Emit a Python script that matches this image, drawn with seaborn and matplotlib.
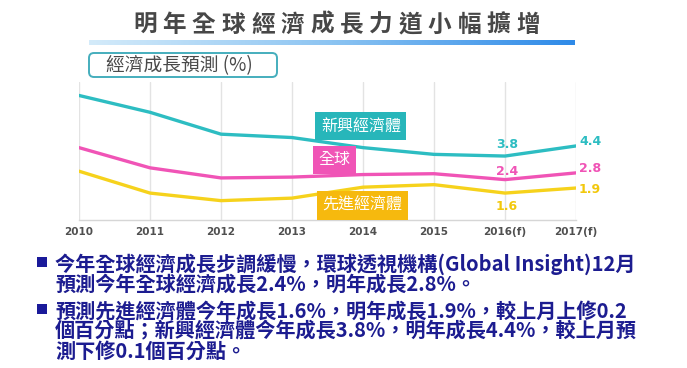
import numpy as np
import pandas as pd
import seaborn as sns
import matplotlib.pyplot as plt
from matplotlib.colors import LinearSegmentedColormap
from matplotlib.patches import FancyBboxPatch, Rectangle

# Data
years = ['2010', '2011', '2012', '2013', '2014', '2015', '2016(f)', '2017(f)']
emerging = [7.4, 6.4, 5.1, 4.9, 4.3, 3.9, 3.8, 4.4]
world = [4.3, 3.1, 2.5, 2.55, 2.7, 2.75, 2.4, 2.8]
advanced = [2.9, 1.6, 1.15, 1.3, 1.95, 2.1, 1.6, 1.9]
series_names = ['新興經濟體', '全球', '先進經濟體']
line_colors = ['#2dbdc2', '#f054b6', '#f6d21c']
box_colors = ['#27b6ba', '#f054b6', '#f6b90e']

title = '明年全球經濟成長力道小幅擴增'
unit_label = '經濟成長預測 (%)'
notes = [
    ['今年全球經濟成長步調緩慢，環球透視機構(Global Insight)12月',
     '預測今年全球經濟成長2.4%，明年成長2.8%。'],
    ['預測先進經濟體今年成長1.6%，明年成長1.9%，較上月上修0.2',
     '個百分點；新興經濟體今年成長3.8%，明年成長4.4%，較上月預',
     '測下修0.1個百分點。'],
]

df = pd.DataFrame({
    'pos': list(range(len(years))) * 3,
    'value': emerging + world + advanced,
    'series': np.repeat(series_names, len(years)),
})

sns.set_theme(style='white')
plt.rcParams['font.family'] = ['Noto Sans CJK TC', 'DejaVu Sans']

W, H = 687, 368
fig = plt.figure(figsize=(W / 100, H / 100), dpi=100)
fig.patch.set_facecolor('white')

# overlay in pixel coordinates for the decorations
ov = fig.add_axes([0, 0, 1, 1], zorder=0)
ov.patch.set_visible(False)
ov.axis('off')

# main chart
ax = fig.add_axes([79 / W, 1 - 220 / H, (576 - 79) / W, (220 - 82) / H], zorder=1)
ax.patch.set_visible(False)
sns.lineplot(data=df, x='pos', y='value', hue='series', hue_order=series_names,
             palette=line_colors, linewidth=2.4, legend=False, sort=False, ax=ax,
             solid_joinstyle='round', solid_capstyle='round')
ax.set_xlim(0, len(years) - 1)
ax.set_ylim(0, 8.2)
ax.set_xticks(range(len(years)))
ax.set_xticklabels(years, fontsize=7.5, fontweight='bold', color='#505050',
                   family='DejaVu Sans')
ax.set_yticks([])
ax.set_xlabel('')
ax.set_ylabel('')
ax.tick_params(axis='x', length=0, pad=5)
ax.grid(axis='x', color='#e3e3e3', linewidth=1)
for s in ['left', 'top', 'right']:
    ax.spines[s].set_visible(False)
ax.spines['bottom'].set_color('#d6d6d6')
ax.spines['bottom'].set_linewidth(1)

# value labels for forecast years
i16, i17 = len(years) - 2, len(years) - 1
for vals, col, dy16, dy17 in [(emerging, line_colors[0], 12, 4),
                              (world, line_colors[1], 8, 4),
                              (advanced, '#f2c80c', -13, -1)]:
    ax.annotate(f'{vals[i16]:.1f}', (i16, vals[i16]), xytext=(2, dy16),
                textcoords='offset pixels', ha='center', va='center',
                fontsize=9, fontweight='bold', color=col, family='DejaVu Sans')
    ax.annotate(f'{vals[i17]:.1f}', (i17, vals[i17]), xytext=(3, dy17),
                textcoords='offset pixels', ha='left', va='center',
                fontsize=9, fontweight='bold', color=col, family='DejaVu Sans',
                annotation_clip=False)

# series name boxes
for name, col, (bx, by) in zip(series_names, box_colors,
                               [(3.97, 5.57), (3.6, 3.57), (3.99, 0.86)]):
    ax.text(bx, by, name, ha='center', va='center', fontsize=11.5, color='white',
            bbox=dict(boxstyle='square,pad=0.35', fc=col, ec='none'), zorder=5)

# title, with wide letter spacing
x0, pitch = 130, 29.5
for k, ch in enumerate(title):
    ov.text(x0 + (k + 0.5) * pitch, 25, ch, ha='center', va='center',
            fontsize=17, fontweight='bold', color='#474747')

# gradient bar under the title
cmap = LinearSegmentedColormap.from_list('bar', ['#d4ebfa', '#8cc4f2', '#2e8ae8'])
ov.imshow(np.linspace(0, 1, 256)[None, :], cmap=cmap, aspect='auto',
          extent=(89, 575, 45, 40))

# unit box
ov.add_patch(FancyBboxPatch((89, 53), 188, 24, boxstyle='round,pad=0,rounding_size=5',
                            fc='white', ec='#45aebd', lw=1.4))
ov.text(106, 65.5, unit_label, ha='left', va='center', fontsize=13.5, color='#4a4a4a')

# bullet notes
line_y = [[264, 284], [311, 331, 351]]
for para, ys in zip(notes, line_y):
    ov.add_patch(Rectangle((37, ys[0] - 7), 10, 10, fc='#1a1a9a', ec='none'))
    for txt, y in zip(para, ys):
        ov.text(55, y, txt, ha='left', va='center', fontsize=14.5,
                fontweight='bold', color='#1c1c90')

ov.set_xlim(0, W)
ov.set_ylim(H, 0)

fig.savefig('out.png', dpi=100, facecolor='white')
